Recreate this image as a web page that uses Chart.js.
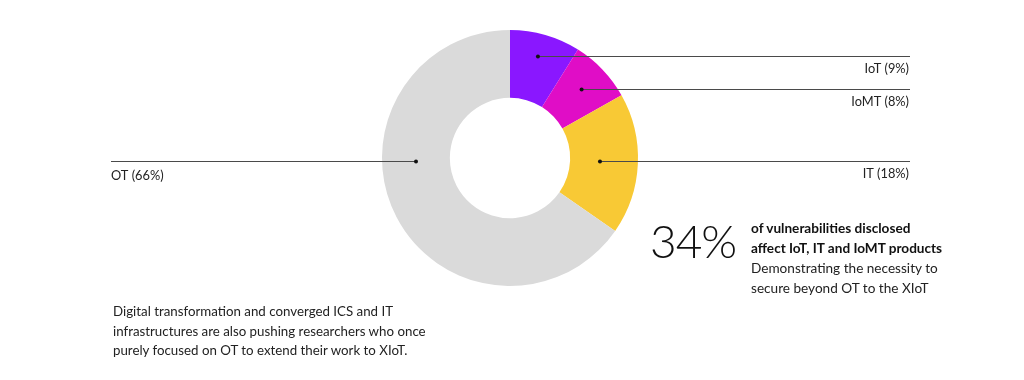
<!DOCTYPE html>
<html>
<head>
<meta charset="utf-8">
<script src="https://cdn.jsdelivr.net/npm/chart.js@4/dist/chart.umd.min.js"></script>
<style>
  body { margin: 0; background: #fff; font-family: Lato, "Open Sans", sans-serif; color: #222; }
  #wrap { position: relative; width: 1024px; height: 380px; overflow: hidden; }
  #donut { position: absolute; left: 0; top: 0; }
  .big { position: absolute; left: 650px; top: 214px; font-size: 46px; font-weight: 300; letter-spacing: -1px; line-height: 54px; color: #111; }
  .note { position: absolute; left: 751px; top: 218px; font-size: 13.6px; line-height: 20px; color: #222; }
  .note b { font-weight: 700; color: #111; }
  .para { position: absolute; left: 113px; top: 302px; font-size: 13.3px; line-height: 19.5px; color: #222; }
</style>
</head>
<body>
<div id="wrap">
  <canvas id="donut" width="1024" height="380"></canvas>
  <div class="big">34%</div>
  <div class="note"><b>of vulnerabilities disclosed<br>affect IoT, IT and IoMT products</b><br>Demonstrating the necessity to<br>secure beyond OT to the XIoT</div>
  <div class="para">Digital transformation and converged ICS and IT<br>infrastructures are also pushing researchers who once<br>purely focused on OT to extend their work to XIoT.</div>
</div>
<script>
// ===== data =====
const categories = ['IoT', 'IoMT', 'IT', 'OT'];
const shares = [9, 8, 18, 66];
const sliceColors = ['#8a17ff', '#e00dc6', '#f8c935', '#dadada'];

// ===== leader lines (layout only) =====
// dy: line offset from the donut centre, side: where the label goes
const leaderRows = [
  { dy: -102, side: 'right' },
  { dy: -69, side: 'right' },
  { dy: 3, side: 'right' },
  { dy: 3, side: 'left' }
];
const leftEdge = 111;
const rightEdge = 910;

const leaderPlugin = {
  id: 'leaders',
  afterDraw(chart) {
    const c = chart.ctx;
    const meta = chart.getDatasetMeta(0);
    meta.data.forEach((arc, i) => {
      const p = arc.getProps(['x', 'y', 'outerRadius'], true);
      const ly = Math.round(p.y + leaderRows[i].dy) + 0.5;
      let minX = null, maxX = null;
      for (let px = p.x - p.outerRadius; px <= p.x + p.outerRadius; px += 0.5) {
        if (arc.inRange(px, ly, true)) {
          if (minX === null) minX = px;
          maxX = px;
        }
      }
      if (minX === null) return;
      // dot sits a bit toward the inner side of the slice
      const right = leaderRows[i].side === 'right';
      const dx = right ? minX + (maxX - minX) * 0.44 : maxX - (maxX - minX) * 0.5;

      c.save();
      c.strokeStyle = '#4a4a4a';
      c.lineWidth = 1;
      c.beginPath();
      if (right) {
        c.moveTo(dx, ly);
        c.lineTo(rightEdge, ly);
      } else {
        c.moveTo(leftEdge, ly);
        c.lineTo(dx, ly);
      }
      c.stroke();

      c.fillStyle = '#111';
      c.beginPath();
      c.arc(dx, ly, 2, 0, Math.PI * 2);
      c.fill();

      c.font = '12.8px Lato, sans-serif';
      c.fillStyle = '#222';
      c.textBaseline = 'middle';
      const label = categories[i] + ' (' + shares[i] + '%)';
      if (right) {
        c.textAlign = 'right';
        c.fillText(label, rightEdge - 1, ly + 12);
      } else {
        c.textAlign = 'left';
        c.fillText(label, leftEdge, ly + 14);
      }
      c.restore();
    });
  }
};

// ===== chart =====
new Chart(document.getElementById('donut'), {
  type: 'doughnut',
  data: {
    labels: categories,
    datasets: [{
      data: shares,
      backgroundColor: sliceColors,
      borderWidth: 0,
      hoverOffset: 0
    }]
  },
  options: {
    responsive: false,
    animation: false,
    cutout: '47%',
    layout: { padding: { left: 0, right: 4, top: 30, bottom: 94 } },
    plugins: { legend: { display: false }, tooltip: { enabled: false } }
  },
  plugins: [leaderPlugin]
});
</script>
</body>
</html>
